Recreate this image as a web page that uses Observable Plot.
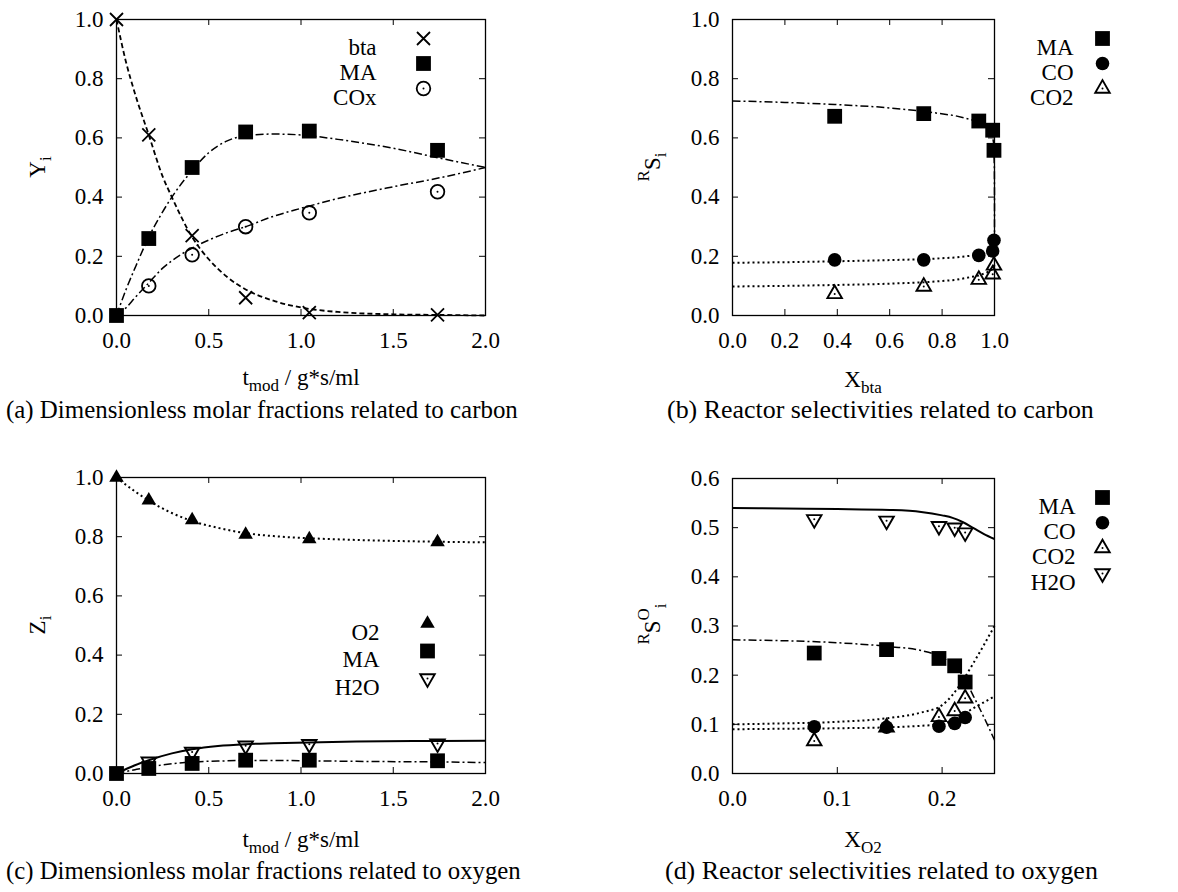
<!DOCTYPE html>
<html><head><meta charset="utf-8">
<script src="https://cdn.jsdelivr.net/npm/d3@7"></script>
<script src="https://cdn.jsdelivr.net/npm/@observablehq/plot@0.6"></script>
<style>
html,body{margin:0;padding:0;background:#fff;}
#root{position:relative;width:1178px;height:892px;overflow:hidden;font-family:"Liberation Serif","Times New Roman","DejaVu Serif",serif;color:#000;}
.panel{position:absolute;}
.lbl{position:absolute;white-space:nowrap;font-family:"Liberation Serif","Times New Roman",serif;font-size:23px;line-height:1;transform:translate(-50%,-50%);}
.rot{transform:translate(-50%,-50%) rotate(-90deg);}
.lbl sub{font-size:17px;vertical-align:-0.35em;}
.lbl sup{font-size:17px;vertical-align:0.6em;}
.cap{position:absolute;white-space:nowrap;line-height:1;transform:translateY(-50%);font-family:"Liberation Serif","Times New Roman",serif;}
</style></head><body><div id="root"></div>
<script>
// ---------- Panel (a): carbon molar fractions vs t_mod ----------
const tPts      = [0, 0.175, 0.41, 0.70, 1.045, 1.74];
const aBtaPts   = [1.0, 0.61, 0.27, 0.06, 0.01, 0.002];
const aMAPts    = [0, 0.26, 0.50, 0.62, 0.623, 0.558];
const tPtsCOx   = [0.175, 0.41, 0.70, 1.045, 1.74];
const aCOxPts   = [0.10, 0.205, 0.30, 0.347, 0.418];
const tModel    = [0, 0.05, 0.1, 0.175, 0.25, 0.3, 0.41, 0.5, 0.6, 0.7, 0.85, 1.0, 1.2, 1.5, 1.75, 2.0];
const aBtaModel = [1.0, 0.86, 0.75, 0.61, 0.47, 0.40, 0.265, 0.19, 0.13, 0.088, 0.05, 0.027, 0.012, 0.004, 0.002, 0.0];
const aMAModel  = [0, 0.085, 0.16, 0.265, 0.35, 0.40, 0.49, 0.55, 0.59, 0.607, 0.613, 0.61, 0.595, 0.565, 0.532, 0.50];
const aCOxModel = [0, 0.025, 0.06, 0.11, 0.16, 0.185, 0.228, 0.255, 0.28, 0.30, 0.335, 0.362, 0.395, 0.435, 0.465, 0.50];
const legendA   = ["bta", "MA", "COx"];

// ---------- Panel (b): carbon selectivities vs X_bta ----------
const xbPts     = [0.39, 0.73, 0.94, 0.993, 0.998];
const bMAPts    = [0.673, 0.682, 0.657, 0.626, 0.558];
const bCOPts    = [0.188, 0.188, 0.203, 0.218, 0.254];
const bCO2Pts   = [0.073, 0.098, 0.121, 0.139, 0.169];
const xbModelMA = [0, 0.2, 0.39, 0.55, 0.73, 0.85, 0.94, 0.97, 0.99, 0.997, 0.9995, 1.0, 1.0];
const bMAModel  = [0.725, 0.72, 0.713, 0.705, 0.69, 0.675, 0.655, 0.64, 0.62, 0.58, 0.50, 0.40, 0.28];
const xbModel   = [0, 0.2, 0.39, 0.55, 0.73, 0.85, 0.94, 0.97, 0.99, 0.997, 1.0];
const bCOModel  = [0.178, 0.18, 0.183, 0.186, 0.19, 0.196, 0.205, 0.212, 0.225, 0.24, 0.26];
const bCO2Model = [0.098, 0.1, 0.103, 0.106, 0.112, 0.12, 0.135, 0.145, 0.155, 0.163, 0.17];
const legendB   = ["MA", "CO", "CO2"];

// ---------- Panel (c): oxygen molar fractions vs t_mod ----------
const tPtsC     = [0, 0.175, 0.41, 0.70, 1.045, 1.74];
const cO2Pts    = [1.0, 0.923, 0.856, 0.807, 0.792, 0.782];
const cMAPts    = [0, 0.017, 0.034, 0.045, 0.045, 0.043];
const tPtsH2O   = [0.175, 0.41, 0.70, 1.045, 1.74];
const cH2OPts   = [0.04, 0.073, 0.094, 0.099, 0.101];
const tModelC   = [0, 0.1, 0.175, 0.3, 0.41, 0.55, 0.7, 0.85, 1.04, 1.3, 1.74, 2.0];
const cO2Model  = [1.0, 0.953, 0.922, 0.88, 0.853, 0.83, 0.812, 0.802, 0.795, 0.789, 0.783, 0.781];
const cMAModel  = [0, 0.013, 0.022, 0.033, 0.039, 0.042, 0.044, 0.044, 0.043, 0.041, 0.039, 0.037];
const cH2OModel = [0, 0.028, 0.045, 0.068, 0.082, 0.093, 0.099, 0.102, 0.105, 0.108, 0.11, 0.111];
const legendC   = ["O2", "MA", "H2O"];

// ---------- Panel (d): oxygen selectivities vs X_O2 ----------
const xdPts     = [0.078, 0.147, 0.197, 0.212, 0.222];
const dMAPts    = [0.245, 0.252, 0.234, 0.219, 0.186];
const dCOPts    = [0.095, 0.094, 0.096, 0.102, 0.114];
const dCO2Pts   = [0.066, 0.094, 0.115, 0.127, 0.153];
const dH2OPts   = [0.517, 0.514, 0.503, 0.500, 0.490];
const xdModel   = [0, 0.05, 0.1, 0.15, 0.18, 0.2, 0.21, 0.22, 0.23, 0.24, 0.25];
const dH2OModel = [0.54, 0.539, 0.538, 0.536, 0.532, 0.525, 0.52, 0.511, 0.499, 0.487, 0.477];
const dMAModel  = [0.272, 0.27, 0.266, 0.258, 0.25, 0.236, 0.222, 0.198, 0.157, 0.114, 0.068];
const dCO2Model = [0.10, 0.102, 0.105, 0.113, 0.124, 0.139, 0.16, 0.19, 0.225, 0.262, 0.30];
const dCOModel  = [0.09, 0.091, 0.092, 0.094, 0.097, 0.101, 0.108, 0.12, 0.133, 0.145, 0.157];
const legendD   = ["MA", "CO", "CO2", "H2O"];

const ticks01   = [0, 0.2, 0.4, 0.6, 0.8, 1.0];
const ticks02   = [0, 0.5, 1.0, 1.5, 2.0];
const ticksD_x  = [0, 0.1, 0.2];
const ticksD_y  = [0, 0.1, 0.2, 0.3, 0.4, 0.5, 0.6];

const captions = [
  "(a) Dimensionless molar fractions related to carbon",
  "(b) Reactor selectivities related to carbon",
  "(c) Dimensionless molar fractions related to oxygen",
  "(d) Reactor selectivities related to oxygen"
];

const FONT = "'Liberation Serif', 'Times New Roman', serif";

// ---------- symbols ----------
const rad = s => Math.sqrt(s / Math.PI);
const symTriUp = {draw(c, s){ const k = rad(s)*1.35; c.moveTo(0,-k); c.lineTo(k*0.866,k*0.5); c.lineTo(-k*0.866,k*0.5); c.closePath(); }};
const symTriDown = {draw(c, s){ const k = rad(s)*1.35; c.moveTo(0,k); c.lineTo(k*0.866,-k*0.5); c.lineTo(-k*0.866,-k*0.5); c.closePath(); }};
const symX = {draw(c, s){ const r = rad(s); c.moveTo(-r,-r); c.lineTo(r,r); c.moveTo(-r,r); c.lineTo(r,-r); }};
const symSq = {draw(c, s){ const r = rad(s); c.moveTo(-r,-r); c.lineTo(r,-r); c.lineTo(r,r); c.lineTo(-r,r); c.closePath(); }};

const ST = {
  X:   {symbol: symX, r: 6.5, stroke: "black", strokeWidth: 1.8, fill: "none"},
  sq:  {symbol: symSq, r: 7.4, fill: "black", stroke: "none"},
  oc:  {symbol: "circle", r: 6.8, stroke: "black", strokeWidth: 1.8, fill: "none", dot: true},
  fc:  {symbol: "circle", r: 6.8, fill: "black", stroke: "none"},
  tu:  {symbol: symTriUp, r: 6.2, stroke: "black", strokeWidth: 1.9, fill: "none", dot: true},
  tuf: {symbol: symTriUp, r: 6.2, fill: "black", stroke: "none"},
  td:  {symbol: symTriDown, r: 6.2, stroke: "black", strokeWidth: 1.9, fill: "none", dot: true},
};
const LS = {
  dash:    {stroke: "black", strokeWidth: 1.8, strokeDasharray: "5,3"},
  dashdot: {stroke: "black", strokeWidth: 1.5, strokeDasharray: "8,3,2,3"},
  dot:     {stroke: "black", strokeWidth: 2, strokeDasharray: "2,3"},
  solid:   {stroke: "black", strokeWidth: 2},
};

function pts(xs, ys, st){
  const {dot, ...o} = st;
  const marks = [Plot.dot(xs, {x: xs, y: ys, ...o})];
  if (dot) marks.push(Plot.dot(xs, {x: xs, y: ys, r: 1, fill: "black", stroke: "none"}));
  return marks;
}
function line(xs, ys, ls, curve="monotone-x"){
  return Plot.line(xs, {x: xs, y: ys, curve, strokeLinecap: "butt", ...ls});
}
function legend(labels, styles, {dxText, dxSym, dy0, step}){
  const m = [];
  labels.forEach((lab, i) => {
    const dy = dy0 + i*step;
    m.push(Plot.text([lab], {text: d => d, frameAnchor: "top-right", dx: dxText, dy, textAnchor: "end", fontSize: 23, fontFamily: FONT}));
    const {dot, ...o} = styles[i];
    m.push(Plot.dot([lab], {frameAnchor: "top-right", dx: dxSym, dy, ...o}));
    if (dot) m.push(Plot.dot([lab], {frameAnchor: "top-right", dx: dxSym, dy, r: 1, fill: "black", stroke: "none"}));
  });
  return m;
}
function frameMarks(xt, yt, fw, fh){
  return [
    Plot.axisX({ticks: xt, tickSize: 0, tickPadding: 16, tickFormat: d3.format(".1f"), fontSize: 23, fontFamily: FONT, label: null}),
    Plot.axisY({ticks: yt, tickSize: 0, tickPadding: 13, tickFormat: d3.format(".1f"), fontSize: 23, fontFamily: FONT, label: null}),
    Plot.tickX(xt, {x: d => d, stroke: "black", insetTop: fh - 6}),
    Plot.tickX(xt, {x: d => d, stroke: "black", insetBottom: fh - 6}),
    Plot.tickY(yt, {y: d => d, stroke: "black", insetLeft: fw - 6}),
    Plot.tickY(yt, {y: d => d, stroke: "black", insetRight: fw - 6}),
    Plot.frame({stroke: "black", strokeWidth: 1.3})
  ];
}
function panel(left, top, cfg){
  const {width, height, ml, mr, mt, mb, xd, yd, marks} = cfg;
  const svg = Plot.plot({
    width, height, marginLeft: ml, marginRight: mr, marginTop: mt, marginBottom: mb,
    x: {domain: xd}, y: {domain: yd},
    style: {fontFamily: FONT, fontSize: "23px", color: "black", background: "transparent", overflow: "visible"},
    marks
  });
  const div = document.createElement("div");
  div.className = "panel";
  div.style.left = left + "px"; div.style.top = top + "px";
  div.appendChild(svg);
  document.getElementById("root").appendChild(div);
}

// Panel A
panel(0, 0, {width: 590, height: 360, ml: 116, mr: 105, mt: 19, mb: 45, xd: [0,2], yd: [0,1], marks: [
  ...frameMarks(ticks02, ticks01, 369, 296),
  line(tModel, aBtaModel, LS.dash),
  line(tModel, aMAModel, LS.dashdot),
  line(tModel, aCOxModel, LS.dashdot),
  ...pts(tPtsCOx, aCOxPts, ST.oc),
  ...pts(tPts, aMAPts, ST.sq),
  ...pts(tPts, aBtaPts, ST.X),
  ...legend(legendA, [ST.X, ST.sq, ST.oc], {dxText: -109, dxSym: -62, dy0: 19, step: 25})
]});

// Panel B
panel(590, 0, {width: 588, height: 360, ml: 142, mr: 184, mt: 19, mb: 45, xd: [0,1], yd: [0,1], marks: [
  ...frameMarks(ticks01, ticks01, 262, 296),
  line(xbModelMA, bMAModel, LS.dashdot, "linear"),
  line(xbModel, bCOModel, LS.dot, "linear"),
  line(xbModel, bCO2Model, LS.dot, "linear"),
  ...pts(xbPts, bCO2Pts, ST.tu),
  ...pts(xbPts, bCOPts, ST.fc),
  ...pts(xbPts, bMAPts, ST.sq),
  ...legend(legendB, [ST.sq, ST.fc, ST.tu], {dxText: 79, dxSym: 108, dy0: 19, step: 25})
]});

// Panel C
panel(0, 440, {width: 590, height: 380, ml: 116, mr: 105, mt: 37, mb: 47, xd: [0,2], yd: [0,1], marks: [
  ...frameMarks(ticks02, ticks01, 369, 296),
  line(tModelC, cO2Model, LS.dot),
  line(tModelC, cMAModel, LS.dashdot),
  line(tModelC, cH2OModel, LS.solid),
  ...pts(tPtsH2O, cH2OPts, ST.td),
  ...pts(tPtsC, cMAPts, ST.sq),
  ...pts(tPtsC, cO2Pts, ST.tuf),
  ...legend(legendC, [ST.tuf, ST.sq, ST.td], {dxText: -106, dxSym: -58, dy0: 146, step: 27.5})
]});

// Panel D
panel(590, 440, {width: 588, height: 380, ml: 142, mr: 184, mt: 38, mb: 47, xd: [0,0.25], yd: [0,0.6], marks: [
  ...frameMarks(ticksD_x, ticksD_y, 262, 295),
  line(xdModel, dH2OModel, LS.solid),
  line(xdModel, dMAModel, LS.dashdot),
  line(xdModel, dCO2Model, LS.dot),
  line(xdModel, dCOModel, LS.dot),
  ...pts(xdPts, dH2OPts, ST.td),
  ...pts(xdPts, dCO2Pts, ST.tu),
  ...pts(xdPts, dCOPts, ST.fc),
  ...pts(xdPts, dMAPts, ST.sq),
  ...legend(legendD, [ST.sq, ST.fc, ST.tu, ST.td], {dxText: 81, dxSym: 108, dy0: 19, step: 25.3})
]});

// Axis titles (HTML, with sub/superscripts)
const root = document.getElementById("root");
function label(html, x, y, rot){
  const d = document.createElement("div");
  d.className = "lbl" + (rot ? " rot" : "");
  d.style.left = x + "px"; d.style.top = y + "px";
  d.innerHTML = html;
  root.appendChild(d);
}
label("Y<sub>i</sub>", 40, 167, true);
label("<sup>R</sup>S<sub>i</sub>", 652, 167, true);
label("Z<sub>i</sub>", 40, 625, true);
label("<sup>R</sup>S<sup>O</sup><sub>i</sub>", 652, 624, true);
label("t<sub>mod</sub> / g*s/ml", 301, 380, false);
label("X<sub>bta</sub>", 863, 382, false);
label("t<sub>mod</sub> / g*s/ml", 301, 842, false);
label("X<sub>O2</sub>", 863, 842, false);

// Captions fitted to reference widths
const ctx = document.createElement("canvas").getContext("2d");
ctx.font = "100px 'Liberation Serif'";
const capPos = [[6, 410, 512], [667, 410, 427], [6, 871, 515], [665, 871, 433]];
captions.forEach((t, i) => {
  const [x, y, w] = capPos[i];
  const fs = 100 * w / ctx.measureText(t).width;
  const d = document.createElement("div");
  d.className = "cap";
  d.style.left = x + "px"; d.style.top = y + "px"; d.style.fontSize = fs.toFixed(2) + "px";
  d.textContent = t;
  root.appendChild(d);
});
</script>
</body></html>
